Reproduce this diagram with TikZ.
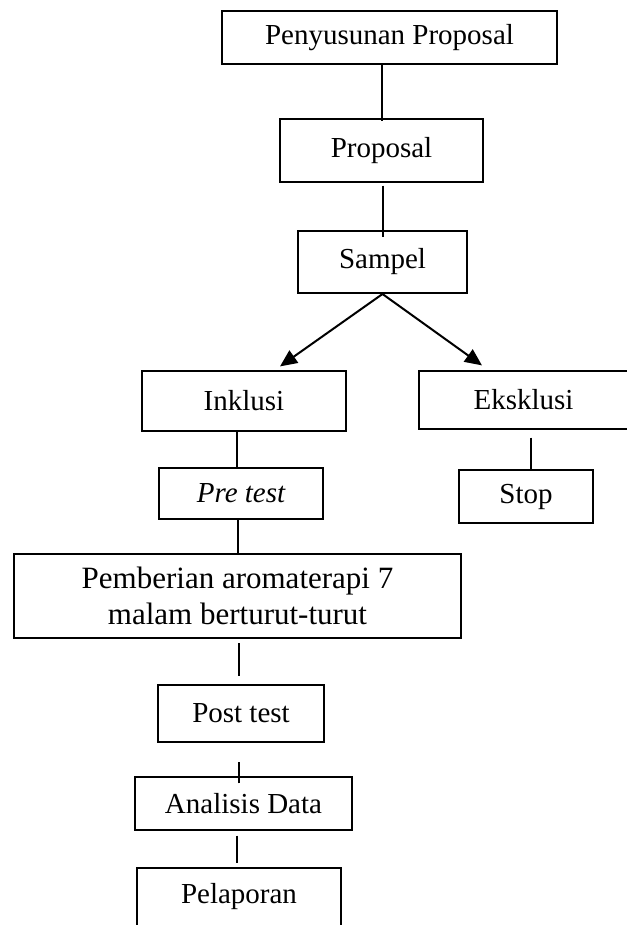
\documentclass[tikz,border=0pt]{standalone}
\usepackage{fontspec}
\setmainfont{Liberation Serif}
\usetikzlibrary{arrows.meta}

\begin{document}
\begin{tikzpicture}[x=1pt, y=-1pt, line width=1.2pt,
  box/.style={draw, rectangle, inner sep=0pt, align=center, font=\fontsize{29}{36}\selectfont},
  boldbox/.style={box, line width=2pt},
  link/.style={line width=2pt},
  pointer/.style={line width=2pt, -{Triangle[length=17pt, width=15pt]}}]

\useasboundingbox (0,0) rectangle (626,925);

% Top of the flow
\node[box, minimum width=335pt, minimum height=53pt] (penyusunan) at (389.5,37.5) {Penyusunan Proposal};
\node[box, minimum width=203pt, minimum height=63pt] (proposal) at (381.5,150.5) {Proposal};
\node[boldbox, minimum width=169pt, minimum height=62pt] (sampel) at (382.5,262) {Sampel};

% Two branches
\node[box, minimum width=204pt, minimum height=60pt] (inklusi) at (244,401) {Inklusi};
\node[box, minimum width=209pt, minimum height=58pt] (eksklusi) at (523.5,400) {Eksklusi};

% Right branch ends
\node[box, minimum width=134pt, minimum height=53pt] (stop) at (526,496.5) {Stop};

% Left branch
\node[boldbox, minimum width=164pt, minimum height=51pt] (pretest) at (241,493.5) {\itshape Pre test};
\node[boldbox, minimum width=447pt, minimum height=84pt, font=\fontsize{31}{36}\selectfont] (pemberian) at (237.5,596) {Pemberian aromaterapi 7\\ malam berturut-turut};
\node[boldbox, minimum width=166pt, minimum height=57pt] (posttest) at (241,713.5) {Post test};
\node[box, minimum width=217pt, minimum height=53pt] (analisis) at (243.5,803.5) {Analisis Data};
\node[box, minimum width=204pt, minimum height=58pt] (pelaporan) at (239,897) {Pelaporan};

% Connectors
\draw[link] (proposal.north |- penyusunan.south) -- ([yshift=-3pt]proposal.north);
\draw[link, shorten <=3pt, shorten >=-7pt] (sampel.north |- proposal.south) -- (sampel.north);

% Arrows to the branches
\draw[pointer] (sampel.south) -- ([xshift=36pt, yshift=4pt]inklusi.north);
\draw[pointer] (sampel.south) -- ([xshift=-41.5pt, yshift=5pt]eksklusi.north);

% Left branch links
\draw[link] ([xshift=-4pt]pretest.north |- inklusi.south) -- ([xshift=-4pt]pretest.north);
\draw[link] (pemberian.north |- pretest.south) -- (pemberian.north);
\draw[link, shorten <=4pt, shorten >=8pt] ([xshift=-2pt]posttest.north |- pemberian.south) -- ([xshift=-2pt]posttest.north);
\draw[link, shorten <=-7pt, shorten >=14pt] ([xshift=-2pt]analisis.north -| posttest.south) -- ([xshift=-2pt]posttest.south |- analisis.north);
\draw[link, shorten <=5pt, shorten >=4pt] ([xshift=-2pt]pelaporan.north |- analisis.south) -- ([xshift=-2pt]pelaporan.north);

% Right branch link
\draw[link, shorten <=8pt] ([xshift=5pt]stop.north |- eksklusi.south) -- ([xshift=5pt]stop.north);

\end{tikzpicture}
\end{document}
